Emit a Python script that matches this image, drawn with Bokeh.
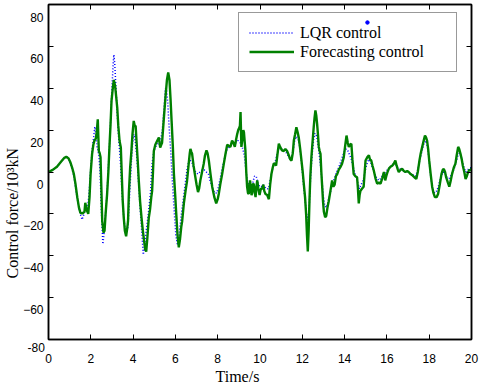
from bokeh.plotting import figure
from bokeh.models import Range1d, LinearAxis, FixedTicker, Title
from bokeh.embed import file_html
from bokeh.resources import INLINE

# ---------------- data ----------------
x_ticks = [0, 2, 4, 6, 8, 10, 12, 14, 16, 18, 20]
y_ticks = [-80, -60, -40, -20, 0, 20, 40, 60, 80]
y_tick_labels_shown = [-60, -40, -20, 0, 20, 40, 60, 80]

t_forecast = [0.00, 0.2, 0.4, 0.6, 0.75, 0.84, 0.95, 1.04, 1.12, 1.2, 1.28, 1.36, 1.44, 1.51, 1.6, 1.7, 1.74, 1.8, 1.88, 1.94,
              1.99, 2.06, 2.12, 2.17, 2.24, 2.28, 2.33, 2.36, 2.38, 2.42, 2.46, 2.5, 2.54, 2.6, 2.65, 2.7, 2.77, 2.83, 2.88, 2.93,
              2.98, 3.04, 3.09, 3.15, 3.2, 3.25, 3.3, 3.36, 3.42, 3.46, 3.51, 3.56, 3.61, 3.67, 3.72, 3.76, 3.8, 3.86, 3.92, 3.97,
              4.03, 4.08, 4.12, 4.16, 4.22, 4.27, 4.33, 4.4, 4.46, 4.51, 4.57, 4.62, 4.67, 4.74, 4.8, 4.86, 4.9, 4.94, 4.98, 5.05,
              5.14, 5.22, 5.28, 5.33, 5.37, 5.45, 5.53, 5.6, 5.66, 5.72, 5.77, 5.82, 5.88, 5.93, 5.99, 6.04, 6.1, 6.16, 6.22, 6.28,
              6.32, 6.4, 6.48, 6.55, 6.62, 6.68, 6.71, 6.76, 6.79, 6.86, 6.92, 7.0, 7.07, 7.12, 7.18, 7.26, 7.34, 7.4, 7.47, 7.52,
              7.58, 7.66, 7.74, 7.84, 7.93, 8.0, 8.05, 8.12, 8.21, 8.29, 8.37, 8.45, 8.52, 8.6, 8.68, 8.74, 8.81, 8.87, 8.92, 8.97,
              9.0, 9.05, 9.08, 9.12, 9.17, 9.21, 9.24, 9.28, 9.31, 9.35, 9.39, 9.43, 9.47, 9.5, 9.53, 9.57, 9.6, 9.63, 9.66, 9.7,
              9.74, 9.79, 9.83, 9.87, 9.92, 9.98, 10.04, 10.1, 10.16, 10.2, 10.26, 10.34, 10.42, 10.48, 10.54, 10.6, 10.65, 10.7, 10.76, 10.82,
              10.89, 10.95, 11.04, 11.12, 11.2, 11.28, 11.36, 11.43, 11.49, 11.55, 11.6, 11.66, 11.72, 11.78, 11.83, 11.9, 11.96, 12.02, 12.07, 12.13,
              12.18, 12.22, 12.26, 12.3, 12.34, 12.38, 12.43, 12.49, 12.54, 12.58, 12.62, 12.66, 12.7, 12.74, 12.78, 12.82, 12.86, 12.9, 12.94, 12.98,
              13.02, 13.08, 13.13, 13.19, 13.25, 13.33, 13.41, 13.47, 13.53, 13.59, 13.65, 13.72, 13.8, 13.88, 13.96, 14.02, 14.09, 14.15, 14.2, 14.26,
              14.32, 14.37, 14.43, 14.51, 14.59, 14.63, 14.67, 14.71, 14.75, 14.82, 14.9, 14.95, 14.99, 15.07, 15.15, 15.2, 15.26, 15.32, 15.38, 15.46,
              15.54, 15.62, 15.7, 15.78, 15.86, 15.92, 15.97, 16.03, 16.09, 16.17, 16.25, 16.33, 16.4, 16.46, 16.52, 16.56, 16.64, 16.72, 16.8, 16.88,
              16.96, 17.03, 17.12, 17.22, 17.3, 17.39, 17.46, 17.54, 17.6, 17.67, 17.74, 17.8, 17.85, 17.9, 17.95, 18.0, 18.07, 18.14, 18.2, 18.27,
              18.35, 18.42, 18.5, 18.58, 18.64, 18.69, 18.75, 18.8, 18.88, 18.95, 19.02, 19.08, 19.16, 19.24, 19.3, 19.37, 19.42, 19.48, 19.54, 19.59,
              19.66, 19.72, 19.78, 19.84, 19.9, 19.95, 20.0]
f_forecast = [0.0, 1.0, 2.5, 5.0, 6.8, 7.3, 6.5, 4.5, 2.0, -1.0, -6, -12, -17, -19.5, -19.8, -19, -14.7, -18, -20, -12,
              -1, 8.5, 13, 15, 16, 19, 25.2, 16, 10, 9, 7, -8, -23.5, -29, -28, -20, -10.7, 0, 11.6, 22,
              34, 40, 44, 41, 36, 30.8, 22, 14.8, 11.7, 0, -13.9, -22, -28, -30.7, -27, -23.5, -10, 2, 10, 18,
              24.4, 22, 22, 15, 5, -4.3, -14, -22, -28, -32, -37, -38, -32, -22, -18, -12, -9, 0, 10, 13,
              14.9, 16.5, 11.7, 13, 14, 25, 35.6, 44, 47.6, 44, 35, 24.4, 12, -1, -11, -20, -30, -36, -32, -26,
              -23.5, -15, -9, -4.3, 3, 9, 11, 9.5, 8.7, 3, -1, -6, -9.6, -8, -4, 0, 4, 8, 10.3, 9,
              5.5, -1, -7, -12, -15, -13, -10.5, -6, -1, 4, 8.7, 13, 12.5, 12, 15, 14, 12, 15.5, 18, 20,
              20.6, 22, 28.6, 12, 16, 20, 19, 14, 10.3, 0, -7, -10, -10.5, -6, -4, -8, -11, -10, -6, -5.5,
              -9, -12, -7, -4, -8, -11, -8, -8, -6, -9, -10.5, -11, -13, -6, -1, 2, 4, 4, 3, 8,
              13.5, 12, 10.3, 10, 11, 10, 8, 6, 5.5, 9, 15, 18, 21.4, 19, 16.6, 11, 5.5, 0, -5.6, -12,
              -20, -30, -38, -28, -13.6, -2, 7, 15, 21.4, 26, 29.4, 27, 23, 18, 12, 10, 8.7, 0, -7, -14,
              -19, -21.6, -21, -17, -14, -9, -4, -7, -6, -2, -1, 1, 2.3, 4, 7, 12, 17.4, 14, 12, 13,
              13.5, 6, -1, -2, -2.5, -8, -15, -11, -9, -8, -7, 0, 5.5, 7, 8, 6, 5.5, 3, 0.7, -3,
              -5.6, -5, -5.6, -3, 0, -4, -2, 0, 1.5, 2.5, 3, 4, 5.5, 3, 1, 0, 1, 1.5, 0.5, 0,
              0.5, 0, -1, -1.7, -2.5, -3.3, 0, 5.5, 9, 12, 15, 17.4, 16.5, 15, 11, 5.5, -1, -7, -10, -12,
              -12, -10.5, -6, -1, 1, 1.5, 0, -2.5, -5, -7, -4, -1, 2, 4, 8, 12, 11, 8.7, 6, 3,
              0, -3.3, -2, 0, 1, 0.7, 2]

t_lqr = [0.0, 0.2, 0.4, 0.6, 0.8, 0.9, 1.0, 1.1, 1.2, 1.3, 1.4, 1.5, 1.59, 1.68, 1.76, 1.84, 1.92, 2.0, 2.08, 2.14,
         2.19, 2.25, 2.3, 2.38, 2.44, 2.5, 2.57, 2.62, 2.7, 2.78, 2.86, 2.94, 3.0, 3.06, 3.09, 3.13, 3.18, 3.24, 3.32, 3.4,
         3.48, 3.56, 3.64, 3.7, 3.76, 3.84, 3.92, 3.98, 4.04, 4.1, 4.18, 4.26, 4.34, 4.42, 4.48, 4.54, 4.62, 4.72, 4.82, 4.9,
         4.98, 5.06, 5.14, 5.22, 5.3, 5.38, 5.46, 5.53, 5.58, 5.64, 5.7, 5.78, 5.86, 5.94, 6.02, 6.1, 6.18, 6.26, 6.36, 6.46,
         6.56, 6.66, 6.76, 6.86, 6.96, 7.06, 7.16, 7.26, 7.36, 7.46, 7.56, 7.66, 7.76, 7.86, 7.96, 8.06, 8.16, 8.26, 8.36, 8.46,
         8.56, 8.66, 8.76, 8.86, 8.96, 9.06, 9.16, 9.26, 9.34, 9.42, 9.5, 9.58, 9.66, 9.74, 9.82, 9.9, 9.98, 10.06, 10.14, 10.22,
         10.3, 10.4, 10.48, 10.56, 10.64, 10.72, 10.8, 10.88, 10.96, 11.06, 11.16, 11.26, 11.36, 11.46, 11.56, 11.64, 11.72, 11.8, 11.88, 11.96,
         12.04, 12.12, 12.2, 12.26, 12.32, 12.38, 12.46, 12.54, 12.6, 12.68, 12.76, 12.84, 12.92, 13.0, 13.06, 13.14, 13.22, 13.32, 13.42, 13.52,
         13.62, 13.72, 13.82, 13.92, 14.0, 14.08, 14.16, 14.24, 14.32, 14.42, 14.52, 14.62, 14.7, 14.78, 14.88, 14.98, 15.06, 15.14, 15.22, 15.32,
         15.42, 15.52, 15.62, 15.72, 15.82, 15.92, 16.02, 16.12, 16.22, 16.32, 16.42, 16.52, 16.62, 16.72, 16.82, 16.92, 17.02, 17.14, 17.26, 17.36,
         17.46, 17.56, 17.66, 17.76, 17.84, 17.92, 18.0, 18.08, 18.16, 18.26, 18.36, 18.46, 18.56, 18.66, 18.76, 18.86, 18.96, 19.06, 19.16, 19.26,
         19.36, 19.44, 19.52, 19.62, 19.72, 19.82, 19.92, 20.0]
f_lqr = [0.0, 1.0, 2.5, 5.0, 7.0, 7.0, 5.0, 2.0, -2, -9, -15, -20, -22.7, -20, -17, -18, -10, 2, 12, 17,
         21.6, 17, 12, 8, 0, -18, -34.4, -30, -20, -8, 8, 25, 40, 52, 56, 52, 42, 30, 16, 5,
         -10, -22, -28, -29, -26, -10, 5, 14, 18, 15, 7, -5, -18, -30, -39.5, -36, -28, -20, -10, 4,
         10, 12, 13, 14, 15, 20, 30, 40, 39, 33, 22, 10, -5, -18, -30, -35, -30, -22, -14, -6,
         2, 6, 5, 2, 0, -1, 0, 1, 1, 0, -1, -5, -8, -10, -10, -6, -1, 4, 8, 11,
         12, 13, 14, 14, 15, 14, 12, 8, 0, -5, -7, -6, -5, -2, -2, -5, -7, -7, -6, -7,
         -8, -8, -4, 0, 3, 5, 8, 11, 11, 11, 10, 9, 7, 6, 10, 15, 17, 16, 12, 5,
         -4, -12, -20, -23, -18, -5, 8, 16, 18.5, 17, 12, 5, -3, -12, -16, -17, -14, -10, -6, -3,
         0, 2, 5, 8, 10, 11, 10, 8, 6, 2, -2, -5, -8, -6, -4, 1, 4, 6, 5, 2,
         -1, -3, -4, -3, -1, -1, 1, 2, 3, 4, 3.5, 2, 1.5, 1, 0, 0, 0, -1, -1.5, -2,
         1, 6, 10, 14, 15, 12, 5, -3, -8, -10, -9, -6, -2, 0, -1, -3, -3, -1, 1, 4,
         8, 9, 7, 3, 0, 1, 2, 2]

stray_t = [15.08]
stray_f = [71.4]

series_names = ["LQR control", "Forecasting control"]
x_title = "Time/s"
y_title = "Control force/10³kN"
y_bottom_label = "-80"

# ---------------- figure ----------------
p = figure(width=485, height=387, output_backend="svg", toolbar_location=None,
           x_range=Range1d(0, 20), y_range=Range1d(-80, 80),
           min_border_left=48, min_border_right=14, min_border_top=4, min_border_bottom=48,
           background_fill_color="white", border_fill_color="white")
p.grid.visible = False
p.outline_line_color = "black"
p.outline_line_width = 1.5

p.extra_y_ranges = {"lab": Range1d(-74.5, 86.0)}

blank_x = {t: "" for t in x_ticks}
blank_y = {t: "" for t in y_ticks}

def tick_only(axis, ticks, blank):
    axis.ticker = FixedTicker(ticks=ticks)
    axis.major_tick_in = 5
    axis.major_tick_out = 0
    axis.minor_tick_line_color = None
    axis.axis_line_width = 1.5
    axis.major_label_overrides = blank
    axis.major_label_standoff = 0

# frame tick marks (all four sides)
tick_only(p.xaxis[0], x_ticks, blank_x)
tick_only(p.yaxis[0], y_ticks, blank_y)
ra = LinearAxis()
tick_only(ra, y_ticks, blank_y)
p.add_layout(ra, "right")
ta = LinearAxis()
tick_only(ta, x_ticks, blank_x)
p.add_layout(ta, "above")

# "-80" sits on its own, just below the frame corner, as in the original
p.add_layout(Title(text=y_bottom_label, align="left", offset=-21, standoff=3,
                   text_font="Liberation Sans", text_font_size="12px",
                   text_font_style="normal", text_color="black"), "below")

# x tick labels
xl = LinearAxis(ticker=FixedTicker(ticks=x_ticks), major_tick_in=0, major_tick_out=0,
                minor_tick_line_color=None, axis_line_color=None, major_label_standoff=0,
                major_label_text_font="Liberation Sans", major_label_text_font_size="12px",
                major_label_text_color="black")
p.add_layout(xl, "below")

# x title
p.add_layout(Title(text=x_title, align="left", offset=167, standoff=0,
                   text_font="Liberation Serif", text_font_size="16px",
                   text_font_style="normal", text_color="black"), "below")

# y tick labels (shifted as in the original picture)
lab_axis = LinearAxis(y_range_name="lab", ticker=FixedTicker(ticks=y_tick_labels_shown),
                      major_tick_in=0, major_tick_out=0, minor_tick_line_color=None,
                      axis_line_color=None, major_label_standoff=5,
                      major_label_text_font="Liberation Sans", major_label_text_font_size="12px",
                      major_label_text_color="black")
p.add_layout(lab_axis, "left")

# y title
p.add_layout(Title(text=y_title, align="left", offset=61, standoff=0,
                   text_font="Liberation Serif", text_font_size="16px",
                   text_font_style="normal", text_color="black"), "left")

# data
p.line(t_lqr, f_lqr, line_color="#0000ff", line_width=1.5, line_dash="1 2", legend_label=series_names[0])
p.line(t_forecast, f_forecast, line_color="#008000", line_width=2.4, legend_label=series_names[1])
p.scatter(stray_t, stray_f, size=3.5, color="#0000ff")

# legend
lg = p.legend[0]
lg.location = (190, 267)
lg.padding = 10
lg.spacing = 0
lg.glyph_width = 45
lg.glyph_height = 19
lg.label_height = 19
lg.label_width = 146
lg.label_standoff = 6
lg.label_text_font = "Liberation Serif"
lg.label_text_font_size = "16px"
lg.label_text_color = "black"
lg.border_line_color = "#333333"
lg.border_line_width = 1.2
lg.background_fill_alpha = 0.0
lg.margin = 0

open("out.html", "w").write(file_html(p, INLINE))
